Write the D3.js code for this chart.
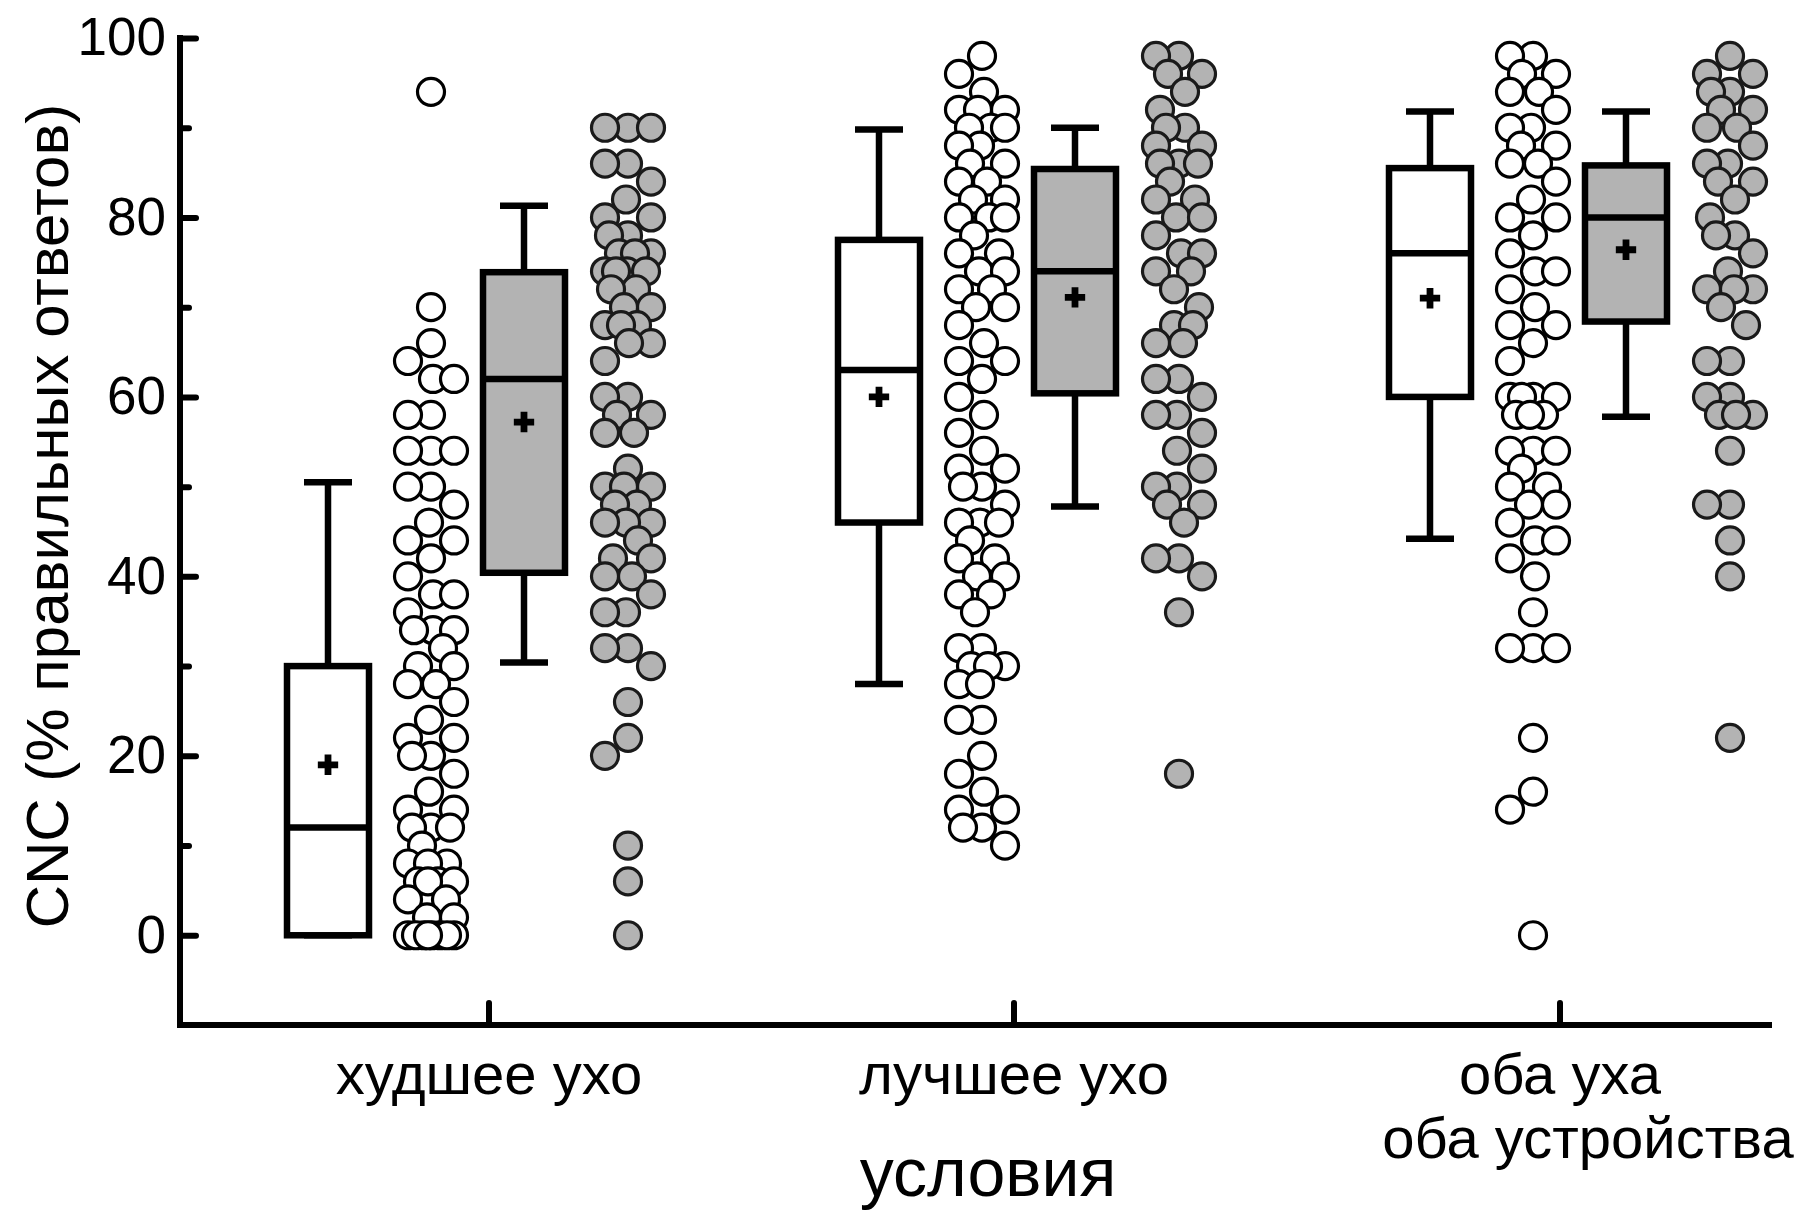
<!DOCTYPE html>
<html>
<head>
<meta charset="utf-8">
<script src="https://cdn.jsdelivr.net/npm/d3@7"></script>
<style>
  html, body { margin: 0; padding: 0; background: #ffffff; }
  svg { display: block; }
  text { font-family: "Liberation Sans", Arial, sans-serif; fill: #000; }
</style>
</head>
<body>
<svg id="chart" width="1805" height="1211"></svg>
<script>
// ---- data -------------------------------------------------------------
const categories = ["худшее ухо", "лучшее ухо", "оба уха\nоба устройства"];
const seriesKeys = ["s1", "s2"];

// box statistics per category: [whisker low, Q1, median, Q3, whisker high, mean]
const boxStatsS1 = [
  [0,    0,    12, 30,   50.5, 19],
  [28,   46,   63, 77.5, 89.8, 60],
  [44.2, 60,   76, 85.5, 91.8, 71]
];
const boxStatsS2 = [
  [30.4, 40.4, 62, 73.9, 81.3, 57.2],
  [47.8, 60.4, 74, 85.4, 90,   71.1],
  [57.8, 68.4, 80, 85.8, 91.8, 76.4]
];

// individual scores (% correct)
const scoresWorseS1 = [94, 70, 66, 64, 62, 62, 58, 58, 54, 54, 54, 50, 50, 48, 46, 44, 44, 42, 40, 38, 38, 36, 34, 34, 34, 32, 30, 30, 28, 28, 26, 24, 22, 22, 20, 20, 18, 16, 14, 14, 12, 12, 12, 10, 8, 8, 8, 6, 6, 6, 6, 4, 4, 2, 2, 0, 0, 0, 0, 0, 0, 0, 0];
const scoresWorseS2 = [90, 90, 90, 86, 86, 84, 82, 80, 80, 78, 78, 76, 76, 76, 74, 74, 74, 74, 72, 72, 70, 70, 68, 68, 68, 66, 66, 64, 60, 60, 58, 58, 56, 56, 52, 50, 50, 50, 48, 48, 46, 46, 46, 44, 42, 42, 40, 40, 38, 36, 36, 32, 32, 30, 26, 22, 20, 10, 6, 0];
const scoresBetterS1 = [98, 96, 94, 92, 92, 92, 90, 90, 90, 88, 88, 86, 86, 84, 84, 82, 82, 80, 80, 80, 78, 76, 76, 74, 74, 72, 72, 70, 70, 68, 66, 64, 64, 62, 60, 58, 56, 54, 52, 52, 50, 50, 48, 46, 46, 46, 44, 42, 42, 40, 40, 38, 38, 36, 32, 32, 30, 30, 30, 28, 28, 24, 24, 20, 18, 16, 14, 14, 12, 12, 10];
const scoresBetterS2 = [98, 98, 96, 96, 94, 92, 90, 90, 88, 88, 86, 86, 86, 84, 82, 82, 80, 80, 78, 76, 76, 74, 74, 72, 70, 68, 68, 66, 66, 62, 62, 60, 58, 58, 56, 54, 52, 50, 50, 48, 48, 46, 42, 42, 40, 36, 18];
const scoresBothS1 = [98, 98, 96, 96, 94, 94, 92, 90, 90, 88, 88, 86, 86, 84, 82, 80, 80, 78, 76, 74, 74, 72, 70, 68, 68, 66, 64, 60, 60, 60, 60, 58, 58, 58, 54, 54, 54, 52, 50, 50, 48, 48, 46, 44, 44, 42, 40, 36, 32, 32, 32, 22, 16, 14, 0];
const scoresBothS2 = [98, 96, 96, 94, 94, 92, 92, 90, 90, 88, 86, 86, 84, 84, 82, 80, 78, 78, 76, 74, 72, 72, 72, 70, 68, 64, 64, 60, 60, 58, 58, 58, 54, 48, 48, 44, 40, 22];

const majorTicks = [0, 20, 40, 60, 80, 100];
const minorTicks = [10, 30, 50, 70, 90];
const yTitle = "CNC (% правильных ответов)";
const xTitle = "условия";

// ---- layout -----------------------------------------------------------
const svg = d3.select("#chart");
const axisX0 = 180, axisX1 = 1772;

const y = d3.scaleLinear().domain([-10, 100]).range([1025, 38]);
const xGroup = d3.scalePoint().domain(categories).range([478, 1580]);
// horizontal placement of box / dot column inside each group
const slot = d3.scaleOrdinal()
  .domain(["box-s1", "dots-s1", "box-s2", "dots-s2"])
  .range([-150, -47, 46, 150]);
const tickShift = [11, -15, -20];

const fills = { s1: "#ffffff", s2: "#b3b3b3" };
const boxW = 82, capW = 48, lw = 6.5;
const dotR = 13.5, dotStroke = 3.2, swarmHalf = 23;

// ---- boxes ------------------------------------------------------------
const boxRows = [];
categories.forEach((c, i) => {
  [["s1", boxStatsS1[i]], ["s2", boxStatsS2[i]]].forEach(([k, s]) => {
    boxRows.push({ cat: c, key: k, low: s[0], q1: s[1], med: s[2], q3: s[3], high: s[4], mean: s[5] });
  });
});

const boxG = svg.append("g").selectAll("g").data(boxRows).join("g")
  .attr("transform", d => `translate(${xGroup(d.cat) + slot("box-" + d.key)},0)`);

boxG.append("line") // upper whisker
  .attr("x1", 0).attr("x2", 0)
  .attr("y1", d => y(d.q3)).attr("y2", d => y(d.high))
  .attr("stroke", "#000").attr("stroke-width", lw);
boxG.append("line") // lower whisker
  .attr("x1", 0).attr("x2", 0)
  .attr("y1", d => y(d.q1)).attr("y2", d => y(d.low))
  .attr("stroke", "#000").attr("stroke-width", lw);
boxG.append("line")
  .attr("x1", -capW / 2).attr("x2", capW / 2)
  .attr("y1", d => y(d.high)).attr("y2", d => y(d.high))
  .attr("stroke", "#000").attr("stroke-width", lw);
boxG.append("line")
  .attr("x1", -capW / 2).attr("x2", capW / 2)
  .attr("y1", d => y(d.low)).attr("y2", d => y(d.low))
  .attr("stroke", "#000").attr("stroke-width", lw);
boxG.append("rect")
  .attr("x", -boxW / 2).attr("width", boxW)
  .attr("y", d => y(d.q3)).attr("height", d => y(d.q1) - y(d.q3))
  .attr("fill", d => fills[d.key]).attr("stroke", "#000").attr("stroke-width", lw);
boxG.append("line")
  .attr("x1", -boxW / 2).attr("x2", boxW / 2)
  .attr("y1", d => y(d.med)).attr("y2", d => y(d.med))
  .attr("stroke", "#000").attr("stroke-width", lw);
boxG.append("path")
  .attr("d", d3.symbol(d3.symbolCross, 230))
  .attr("transform", d => `translate(0,${y(d.mean)})`)
  .attr("fill", "#000");

// ---- dot columns (compact beeswarm) ------------------------------------
function swarm(values) {
  const placed = [];
  const D = 2 * dotR + dotStroke;
  const order = values.map((v, i) => ({ v, i })).sort((a, b) => b.v - a.v || a.i - b.i);
  order.forEach(({ v }) => {
    const py = y(v);
    let best = 0, bestScore = -1;
    for (let step = 0; step <= swarmHalf; step++) {
      for (const c of step === 0 ? [0] : [-step, step]) {
        let m = D;
        for (const p of placed) {
          const dy = p.y - py;
          if (Math.abs(dy) >= D) continue;
          const dd = Math.hypot(p.x - c, dy);
          if (dd < m) m = dd;
        }
        if (m > bestScore + 1e-6) { bestScore = m; best = c; }
      }
    }
    placed.push({ x: best, y: py, v });
  });
  return placed;
}

const columns = [
  { cat: categories[0], key: "s1", values: scoresWorseS1 },
  { cat: categories[0], key: "s2", values: scoresWorseS2 },
  { cat: categories[1], key: "s1", values: scoresBetterS1 },
  { cat: categories[1], key: "s2", values: scoresBetterS2 },
  { cat: categories[2], key: "s1", values: scoresBothS1 },
  { cat: categories[2], key: "s2", values: scoresBothS2 }
];

columns.forEach(col => {
  const cx = xGroup(col.cat) + slot("dots-" + col.key);
  svg.append("g")
    .selectAll("circle").data(swarm(col.values)).join("circle")
    .attr("cx", d => cx + d.x)
    .attr("cy", d => d.y)
    .attr("r", dotR)
    .attr("fill", fills[col.key])
    .attr("stroke", col.key === "s2" ? "#1a1a1a" : "#000")
    .attr("stroke-width", dotStroke);
});

// ---- y axis -------------------------------------------------------------
const yMajor = d3.axisLeft(y).tickValues(majorTicks).tickSizeInner(-16).tickSizeOuter(0).tickPadding(14);
const yMinor = d3.axisLeft(y).tickValues(minorTicks).tickSizeInner(-9).tickSizeOuter(0).tickFormat("");

const gMinor = svg.append("g").attr("transform", `translate(${axisX0},0)`).call(yMinor);
const gMajor = svg.append("g").attr("transform", `translate(${axisX0},0)`).call(yMajor);
[gMinor, gMajor].forEach(g => {
  g.select(".domain").remove();
  g.selectAll(".tick line").attr("stroke", "#000").attr("stroke-width", 6).attr("stroke-linecap", "round");
});
gMajor.selectAll(".tick text")
  .attr("font-size", 53)
  .attr("font-family", "Liberation Sans, Arial, sans-serif")
  .attr("fill", "#000");

svg.append("line")
  .attr("x1", axisX0).attr("x2", axisX0)
  .attr("y1", y(100) - 3).attr("y2", y(-10) + 3)
  .attr("stroke", "#000").attr("stroke-width", 6);

// ---- x axis -------------------------------------------------------------
svg.append("line")
  .attr("x1", axisX0 - 3).attr("x2", axisX1)
  .attr("y1", y(-10)).attr("y2", y(-10))
  .attr("stroke", "#000").attr("stroke-width", 6);

const xTicks = svg.append("g").selectAll("g").data(categories).join("g")
  .attr("transform", (d, i) => `translate(${xGroup(d) + tickShift[i]},${y(-10)})`);
xTicks.append("line")
  .attr("y1", 0).attr("y2", -22)
  .attr("stroke", "#000").attr("stroke-width", 6).attr("stroke-linecap", "round");

const lineDx = [[0], [0], [0, 28]];
xTicks.each(function (d, i) {
  const t = d3.select(this).append("text")
    .attr("text-anchor", "middle")
    .attr("font-size", 58);
  d.split("\n").forEach((line, j) => {
    t.append("tspan")
      .attr("x", lineDx[i][j])
      .attr("y", 69 + j * 64)
      .text(line);
  });
});

// ---- axis titles --------------------------------------------------------
svg.append("text")
  .attr("x", 988).attr("y", 1196)
  .attr("text-anchor", "middle")
  .attr("font-size", 68)
  .text(xTitle);

svg.append("text")
  .attr("transform", `translate(68,${516}) rotate(-90)`)
  .attr("text-anchor", "middle")
  .attr("font-size", 60)
  .text(yTitle);
</script>
</body>
</html>
